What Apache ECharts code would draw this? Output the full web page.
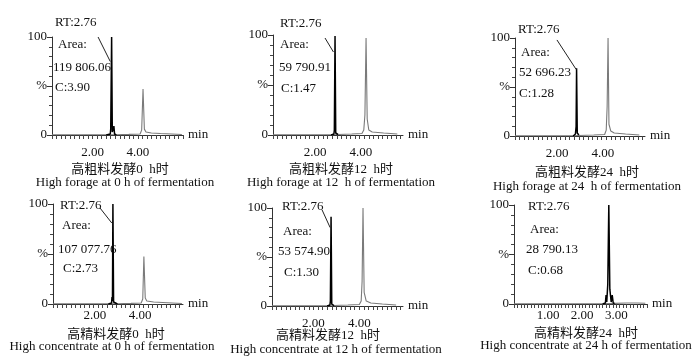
<!DOCTYPE html>
<html><head><meta charset="utf-8">
<script src="https://cdn.jsdelivr.net/npm/echarts@6/dist/echarts.min.js"></script>
<style>html,body{margin:0;padding:0;background:#fff}#c{width:700px;height:357px}</style>
</head><body><div id="c"></div>
<script>
// ---- data (retention time in min, response in %) ----
const p1Main = [[2.60,0],[2.78,1],[2.80,6],[2.84,100],[2.87,3],[2.91,1],[2.94,9],[2.97,1],[3.05,0]];
const p1Rest = [[0.2,0.3],[2.6,0.3],[3.05,0.3],[3.6,0.6],[4.10,1],[4.17,5],[4.23,47],[4.29,6],[4.36,3],[4.6,2],[5.0,1.5],[5.5,1],[5.95,0.5]];
const p2Main = [[2.70,0],[2.82,1],[2.84,5],[2.87,99],[2.90,2],[3.00,0.5]];
const p2Rest = [[0.15,0.3],[2.7,0.3],[3.0,0.5],[3.6,1],[4.05,1.5],[4.13,5],[4.18,20],[4.23,97],[4.28,16],[4.35,5],[4.5,3],[5.0,2],[5.6,1]];
const p3Main = [[2.70,0],[2.80,2],[2.83,10],[2.85,69],[2.88,3],[2.95,1]];
const p3Rest = [[0.15,0.3],[2.7,0.3],[2.95,0.5],[3.6,1],[4.08,1.5],[4.15,6],[4.19,30],[4.23,100],[4.27,12],[4.35,5],[4.5,3],[5.0,2],[5.6,1]];
const p4Main = [[2.60,0],[2.74,1],[2.76,7],[2.78,3],[2.80,100],[2.83,2],[2.90,1],[3.0,0]];
const p4Rest = [[0.15,0.3],[2.6,0.3],[3.0,0.3],[3.6,0.6],[4.05,1],[4.12,5],[4.17,47.5],[4.23,6],[4.30,3],[4.6,2],[5.0,1.5],[5.85,0.5]];
const p5Main = [[2.60,0],[2.72,1],[2.74,5],[2.77,91],[2.80,2],[2.90,0.5]];
const p5Rest = [[0.2,0.3],[2.6,0.3],[2.9,0.5],[3.5,1],[4.00,1.5],[4.08,5],[4.12,25],[4.16,100],[4.21,14],[4.30,5],[4.5,3],[5.0,2],[5.6,1]];
const p6Main = [[2.60,0],[2.68,1],[2.70,9],[2.72,2],[2.75,20],[2.78,100],[2.81,15],[2.85,2],[2.88,9],[2.91,1],[2.95,0.5]];
const p6Rest = [[0.0,0.3],[2.6,0.3],[2.95,0.6],[3.3,1],[3.6,1],[3.85,0.8]];

const xLabels = [[2, 4],[2, 4],[2, 4],[2, 4],[2, 4],[1, 2, 3]];
const rtTexts = ['RT:2.76','RT:2.76','RT:2.76','RT:2.76','RT:2.76','RT:2.76'];
const areaTexts = ['119 806.06','59 790.91','52 696.23','107 077.76','53 574.90','28 790.13'];
const cTexts = ['C:3.90','C:1.47','C:1.28','C:2.73','C:1.30','C:0.68'];
const cnTitles = ['高粗料发酵0  h时','高粗料发酵12  h时','高粗料发酵24  h时','高精料发酵0  h时','高精料发酵12  h时','高精料发酵24  h时'];
const enTitles = ['High forage at 0 h of fermentation','High forage at 12  h of fermentation','High forage at 24  h of fermentation',
  'High concentrate at 0 h of fermentation','High concentrate at 12 h of fermentation','High concentrate at 24 h of fermentation'];
// annotation leader lines [start, end] in data coords
const leaders = [
  [[2.24,100],[2.78,75]],
  [[2.43,97],[2.80,83]],
  [[1.99,98],[2.83,68]],
  [[2.23,96],[2.75,81]],
  [[2.38,98],[2.73,80]],
  [[1.79,101],[2.72,83]]
];
const mains = [p1Main,p2Main,p3Main,p4Main,p5Main,p6Main];
const rests = [p1Rest,p2Rest,p3Rest,p4Rest,p5Rest,p6Rest];

// ---- layout ----
const panels = [
  {left:52, top:37, width:131, height:98, min:0.2, max:6.0, step:0.2, lm:11,
   txt:{x:55, ys:[23,45,68,88], dx:[0,3,-2,0]}, cap:{x:120, cy:170, ey:183}},
  {left:273, top:35, width:130, height:100, min:0.15, max:5.85, step:0.2, lm:11,
   txt:{x:280, ys:[24,45,68,89], dx:[0,0,-1,1]}, cap:{x:341, cy:170, ey:183}},
  {left:515, top:38, width:130, height:98, min:0.15, max:5.85, step:0.2, lm:11,
   txt:{x:518, ys:[30,53,73,94], dx:[0,3,1,1]}, cap:{x:587, cy:173, ey:187}},
  {left:53, top:204, width:130, height:100, min:0.15, max:5.9, step:0.2, lm:5,
   txt:{x:60, ys:[206,226,250,269], dx:[0,2,-2,3]}, cap:{x:116, cy:335, ey:347}},
  {left:272, top:208, width:131, height:98, min:0.2, max:5.9, step:0.2, lm:11,
   txt:{x:282, ys:[207,232,252,273], dx:[0,1,-4,2]}, cap:{x:328, cy:336, ey:350}},
  {left:514, top:205, width:133, height:99, min:0.0, max:3.9, step:0.1, lm:5,
   txt:{x:528, ys:[207,230,250,271], dx:[0,2,-2,0]}, cap:{x:586, cy:334, ey:346}}
];

const serif = "'Liberation Serif','Times New Roman',serif";
const cjk = "'Liberation Serif','Noto Sans CJK SC',serif";
const grid = [], xAxis = [], yAxis = [], series = [], graphic = [];

panels.forEach((p, i) => {
  grid.push({left:p.left, top:p.top, width:p.width, height:p.height, containLabel:false, outerBoundsMode:'none'});
  const ticks = [];
  for (let v = p.min; v <= p.max + 1e-9; v += p.step) ticks.push(+v.toFixed(2));
  xAxis.push({
    type:'value', gridIndex:i, min:p.min, max:p.max,
    name:'min', nameLocation:'end', nameGap:5,
    nameTextStyle:{color:'#111', fontFamily:serif, fontSize:13},
    axisLine:{show:true, onZero:false, lineStyle:{color:'#333', width:1}},
    axisTick:{show:true, customValues:ticks, length:4, lineStyle:{color:'#444'}},
    axisLabel:{customValues:xLabels[i], formatter:v => v.toFixed(2), color:'#111',
      fontFamily:serif, fontSize:13, margin:p.lm},
    splitLine:{show:false}
  });
  yAxis.push({
    type:'value', gridIndex:i, min:0, max:100, interval:50,
    axisLine:{show:true, lineStyle:{color:'#333', width:1}},
    axisTick:{show:true, length:5, lineStyle:{color:'#333'}},
    minorTick:{show:true, splitNumber:5, length:3, lineStyle:{color:'#444'}},
    axisLabel:{formatter:v => v === 50 ? '%' : String(v), color:'#111', fontFamily:serif, fontSize:13, margin:5},
    splitLine:{show:false}, minorSplitLine:{show:false}
  });
  series.push({
    type:'line', xAxisIndex:i, yAxisIndex:i, data:rests[i], symbol:'none',
    lineStyle:{color:'#7a7a7a', width:1.1}, silent:true, animation:false, z:2
  });
  series.push({
    type:'line', xAxisIndex:i, yAxisIndex:i, data:mains[i], symbol:'none',
    lineStyle:{color:'#000', width:1.5}, silent:true, animation:false, z:3,
    markLine:{silent:true, symbol:'none', animation:false, label:{show:false},
      lineStyle:{color:'#222', width:1, type:'solid'},
      data:[[{coord:leaders[i][0]},{coord:leaders[i][1]}]]}
  });
  const t = p.txt;
  const texts = [rtTexts[i], 'Area:', areaTexts[i], cTexts[i]];
  texts.forEach((s, k) => {
    graphic.push({type:'text', x:t.x + t.dx[k], y:t.ys[k], z:10,
      style:{text:s, fill:'#111', font:'13px ' + serif, textVerticalAlign:'middle', textAlign:'left'}});
  });
  graphic.push({type:'text', x:p.cap.x, y:p.cap.cy, z:10,
    style:{text:cnTitles[i], fill:'#111', font:'13px ' + cjk, textAlign:'center', textVerticalAlign:'middle'}});
  graphic.push({type:'text', x:p.cap.x + (i===0?5:(i===3?-4:(i===4?8:0))), y:p.cap.ey, z:10,
    style:{text:enTitles[i], fill:'#111', font:'13px ' + serif, textAlign:'center', textVerticalAlign:'middle'}});
});

const chart = echarts.init(document.getElementById('c'), null, {renderer:'canvas'});
chart.setOption({animation:false, backgroundColor:'#fff', grid, xAxis, yAxis, series, graphic});
</script></body></html>
